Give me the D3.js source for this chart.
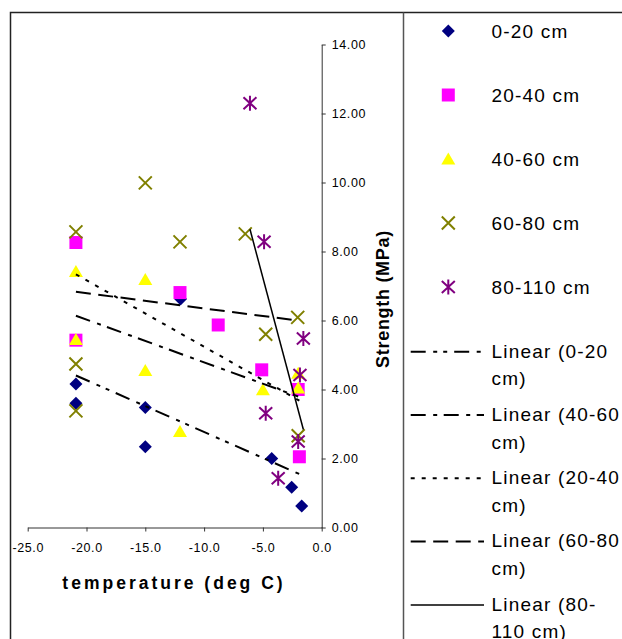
<!DOCTYPE html>
<html>
<head>
<meta charset="utf-8">
<script src="https://cdn.jsdelivr.net/npm/d3@7"></script>
<style>
  body { margin: 0; background: #fff; }
  text { font-family: "Liberation Sans", Arial, sans-serif; fill: #000; }
</style>
</head>
<body>
<div class="chart"></div>
<script>
// DATA
const seriesNames = ['0-20 cm', '20-40 cm', '40-60 cm', '60-80 cm', '80-110 cm'];

const temp0to20 = [-20.9, -20.9, -15.0, -15.0, -12.0, -4.25, -2.55, -1.7];
const str0to20 = [4.16, 3.60, 3.48, 2.34, 6.62, 2.00, 1.17, 0.62];

const temp20to40 = [-20.9, -20.9, -12.05, -8.8, -5.1, -2.0, -1.9];
const str20to40 = [8.26, 5.43, 6.81, 5.87, 4.57, 4.00, 2.05];

const temp40to60 = [-20.9, -20.9, -15.0, -15.0, -12.05, -5.0, -2.0, -2.0];
const str40to60 = [7.42, 5.45, 7.19, 4.55, 2.78, 3.99, 4.47, 4.04];

const temp60to80 = [-20.9, -20.9, -20.9, -15.0, -12.05, -6.5, -4.76, -2.04, -2.0];
const str60to80 = [8.57, 4.74, 3.38, 9.99, 8.28, 8.51, 5.60, 6.09, 2.66];

const temp80to110 = [-6.1, -4.9, -1.56, -1.85, -4.76, -2.0, -3.7];
const str80to110 = [12.30, 8.28, 5.48, 4.42, 3.31, 2.49, 1.43];

const xTicks = [-25, -20, -15, -10, -5, 0];
const yTicks = [0, 2, 4, 6, 8, 10, 12, 14];

// legend order of the trend lines (index into seriesNames)
const trendOrder = [0, 2, 1, 3, 4];
const trendLabels = [
  ['Linear (0-20', 'cm)'],
  ['Linear (40-60', 'cm)'],
  ['Linear (20-40', 'cm)'],
  ['Linear (60-80', 'cm)'],
  ['Linear (80-', '110 cm)']
];

// STYLES
const markerStyles = [
  { shape: 'diamond', color: '#000080' },
  { shape: 'square', color: '#FF00FF' },
  { shape: 'triangle', color: '#FFFF00' },
  { shape: 'cross', color: '#808000' },
  { shape: 'star', color: '#800080' }
];
const trendDash = ['15,7.5,4,6,4,7', '4,7', '15,7.5,4,6.5', '15,7.5', null];
const trendWidth = [2, 2, 2, 2, 1.5];

const series = [
  { x: temp0to20, y: str0to20 },
  { x: temp20to40, y: str20to40 },
  { x: temp40to60, y: str40to60 },
  { x: temp60to80, y: str60to80 },
  { x: temp80to110, y: str80to110 }
].map((s, i) => ({ ...s, name: seriesNames[i], style: markerStyles[i] }));

// Setup
const width = 622, height = 639;
const x = d3.scaleLinear().domain([-25, 0]).range([27.7, 321.7]);
const y = d3.scaleLinear().domain([0, 14]).range([527.5, 44.5]);

const svg = d3.select('.chart')
  .append('svg')
  .attr('width', width)
  .attr('height', height);

addFrame(svg);
addAxes(svg);
addPoints(svg);
addTrendLines(svg);
addLegend(svg);


// CHART PARTS
function markerPath(shape) {
  switch (shape) {
    case 'diamond': return 'M0,-6.5L6.5,0L0,6.5L-6.5,0Z';
    case 'square': return 'M-6.5,-6.5H6.5V6.5H-6.5Z';
    case 'triangle': return 'M0,-6.5L7,5.5L-7,5.5Z';
    case 'cross': return 'M-6.5,-6.5L6.5,6.5M-6.5,6.5L6.5,-6.5';
    case 'star': return 'M0,-7.5V7.5M-6.5,-6L6.5,6M-6.5,6L6.5,-6';
  }
}

function drawMarker(sel, style) {
  const filled = style.shape === 'diamond' || style.shape === 'square' || style.shape === 'triangle';
  return sel.append('path')
    .attr('d', markerPath(style.shape))
    .attr('fill', filled ? style.color : 'none')
    .attr('stroke', filled ? 'none' : style.color)
    .attr('stroke-width', filled ? 0 : 2);
}

function fitLine(xs, ys) {
  const mx = d3.mean(xs), my = d3.mean(ys);
  const sxy = d3.sum(xs, (v, i) => (v - mx) * (ys[i] - my));
  const sxx = d3.sum(xs, v => (v - mx) * (v - mx));
  const b = sxy / sxx, a = my - b * mx;
  return d3.extent(xs).map(v => [v, a + b * v]);
}

function addFrame(svg) {
  svg.append('rect')
    .attr('x', 10.5).attr('y', 12.5)
    .attr('width', 800).attr('height', 800)
    .attr('fill', 'none')
    .attr('stroke', '#222')
    .attr('stroke-width', 1.5);

  svg.append('line')
    .attr('x1', 403.5).attr('x2', 403.5)
    .attr('y1', 12.5).attr('y2', height)
    .attr('stroke', '#555')
    .attr('stroke-width', 1.5);
}

function addAxes(svg) {
  const xAxis = svg.append('g')
    .attr('transform', `translate(0,${y(0)})`)
    .call(d3.axisBottom(x)
      .tickValues(xTicks)
      .tickSize(4)
      .tickSizeOuter(0)
      .tickPadding(12)
      .tickFormat(d => d.toFixed(1)));

  const yAxis = svg.append('g')
    .attr('transform', `translate(${x(0)},0)`)
    .call(d3.axisRight(y)
      .tickValues(yTicks)
      .tickSize(4)
      .tickSizeOuter(0)
      .tickPadding(6)
      .tickFormat(d => d.toFixed(2)));

  [xAxis, yAxis].forEach(ax => {
    ax.attr('font-family', null).attr('font-size', null);
    ax.select('.domain').attr('stroke', '#333');
    ax.selectAll('.tick line').attr('stroke', '#333');
    ax.selectAll('.tick text')
      .attr('fill', '#000')
      .style('font-size', '12.5px')
      .style('letter-spacing', '0.6px');
  });

  svg.append('text')
    .attr('x', 174)
    .attr('y', 588.5)
    .attr('text-anchor', 'middle')
    .style('font-size', '17.5px')
    .style('font-weight', 'bold')
    .style('letter-spacing', '3px')
    .text('temperature (deg C)');

  svg.append('text')
    .attr('transform', 'translate(389,299) rotate(-90)')
    .attr('text-anchor', 'middle')
    .style('font-size', '18px')
    .style('font-weight', 'bold')
    .style('letter-spacing', '0.7px')
    .text('Strength (MPa)');
}

function addPoints(svg) {
  series.forEach(s => {
    const g = svg.append('g').attr('class', 'series');
    s.x.forEach((t, i) => {
      const m = g.append('g')
        .attr('transform', `translate(${x(t)},${y(s.y[i])})`);
      drawMarker(m, s.style);
    });
  });
}

function addTrendLines(svg) {
  const line = d3.line().x(d => x(d[0])).y(d => y(d[1]));
  trendOrder.forEach(si => {
    const s = series[si];
    svg.append('path')
      .attr('d', line(fitLine(s.x, s.y)))
      .attr('fill', 'none')
      .attr('stroke', '#000')
      .attr('stroke-width', trendWidth[si])
      .attr('stroke-dasharray', trendDash[si]);
  });
}

function addLegend(svg) {
  const legend = svg.append('g').attr('class', 'legend');
  const textStyle = t => t.style('font-size', '19px').style('letter-spacing', '1.2px');

  series.forEach((s, i) => {
    const rowY = 37.5 + i * 64;
    const m = legend.append('g').attr('transform', `translate(448.3,${rowY - 6.5})`);
    drawMarker(m, s.style);
    legend.append('text')
      .attr('x', 491.5)
      .attr('y', rowY)
      .call(textStyle)
      .text(s.name);
  });

  trendOrder.forEach((si, i) => {
    const lineY = 351.7 + i * 63.3;
    legend.append('line')
      .attr('x1', 410.7).attr('x2', 484)
      .attr('y1', lineY).attr('y2', lineY)
      .attr('stroke', '#000')
      .attr('stroke-width', trendWidth[si])
      .attr('stroke-dasharray', trendDash[si]);

    const label = legend.append('text')
      .attr('x', 491.5)
      .attr('y', lineY + 5.8)
      .call(textStyle);
    trendLabels[i].forEach((part, k) => {
      label.append('tspan')
        .attr('x', 491.5)
        .attr('dy', k === 0 ? 0 : 27.7)
        .text(part);
    });
  });
}
</script>
</body>
</html>
